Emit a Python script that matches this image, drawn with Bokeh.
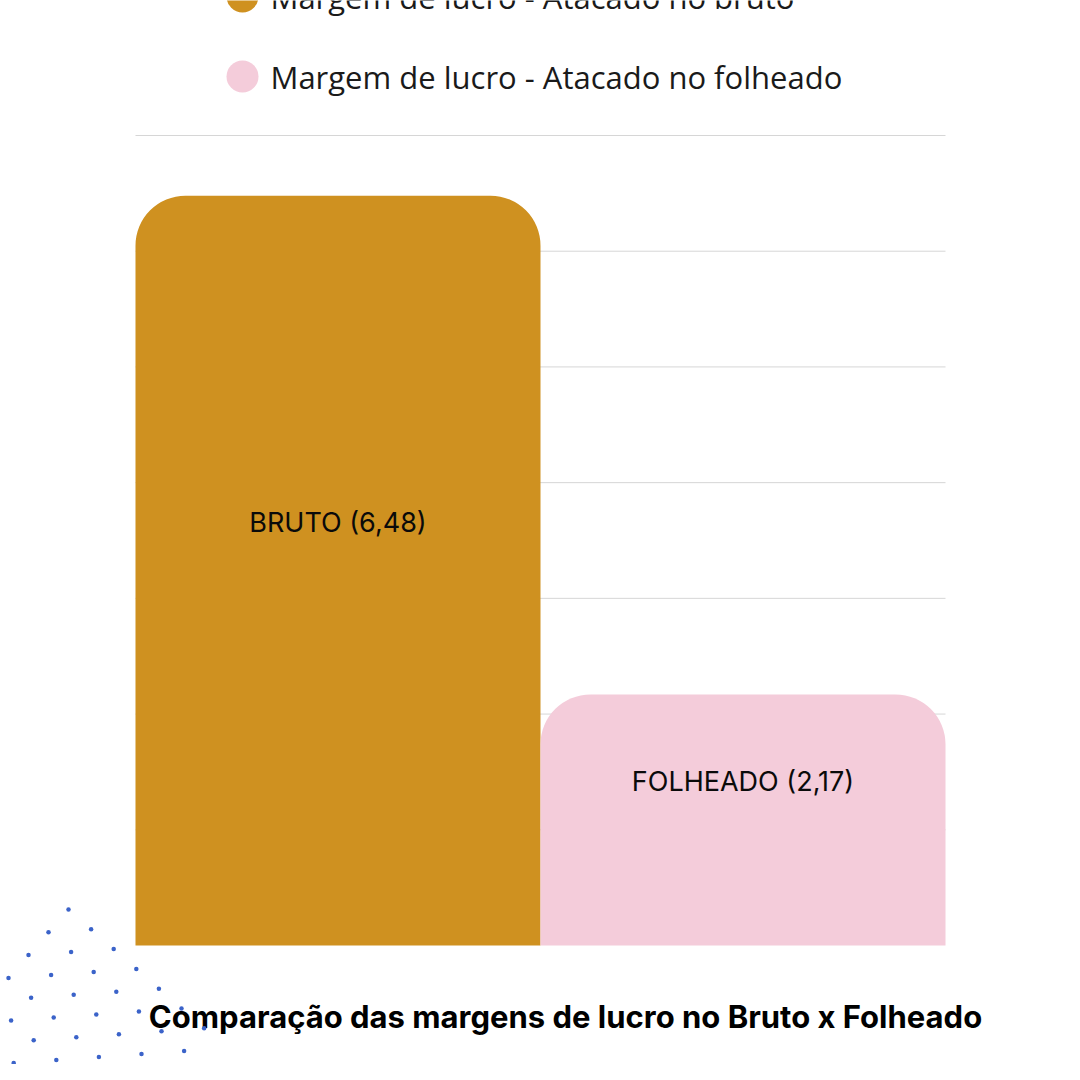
from bokeh.plotting import figure
from bokeh.models import Range1d
from bokeh.core.properties import value
from bokeh.embed import file_html
from bokeh.resources import INLINE

# ---- data ----
categories = ["BRUTO", "FOLHEADO"]
margins = [6.48, 2.17]
bar_colors = ["#CF9120", "#F4CCDA"]
series_names = ["Margem de lucro - Atacado no bruto", "Margem de lucro - Atacado no folheado"]
grid_values = [1, 2, 3, 4, 5, 6, 7]
title_text = "Comparação das margens de lucro no Bruto x Folheado"

# ---- figure: frame covers whole canvas ----
W = H = 1064
p = figure(width=W, height=H, output_backend="svg", toolbar_location=None,
           x_range=Range1d(-0.8333, 1.7938), y_range=Range1d(-1.0284, 8.1667),
           x_axis_location=None, y_axis_location=None, min_border=0)
p.grid.visible = False
p.outline_line_color = None
p.background_fill_color = "white"
p.border_fill_color = "white"
# pixel-space ranges (y downwards) for decorations
p.extra_x_ranges = {"px": Range1d(0, W)}
p.extra_y_ranges = {"px": Range1d(H, 0)}

# gridlines
p.segment(x0=-0.5, x1=len(categories) - 0.5, y0=grid_values, y1=grid_values,
          line_color="#d6d6d6", line_width=1)

# bars
xs = list(range(len(categories)))
p.vbar(x=xs, top=margins, bottom=0, width=1, fill_color=bar_colors,
       line_color=None, border_radius=(50, 50, 0, 0))

labels = [f"{c} ({v:.2f})".replace(".", ",") for c, v in zip(categories, margins)]
p.text(x=xs, y=[v * 0.52 for v in margins], text=labels, y_offset=-33,
       text_align="center", text_baseline="middle", text_color="#0a0a0a",
       text_font=value("Inter"), text_font_size=value("27px"))

# legend (top)
leg_y = [76 - 80 * (len(series_names) - 1 - i) for i in range(len(series_names))]
p.scatter(x=[242] * len(series_names), y=leg_y, size=32, marker="circle",
          fill_color=bar_colors, line_color=None,
          x_range_name="px", y_range_name="px")
p.text(x=[270] * len(series_names), y=leg_y, text=series_names,
       text_align="left", text_baseline="middle", text_color="#1a1a1a",
       text_font=value("Open Sans"), text_font_size=value("31px"),
       x_range_name="px", y_range_name="px")

# title (bottom)
p.text(x=[565], y=[1016], text=[title_text], text_align="center",
       text_baseline="middle", text_color="#000000", text_font=value("Inter"),
       text_font_style="bold", text_font_size=value("31px"),
       x_range_name="px", y_range_name="px")

# decorative dot lattice
dx, dy = [], []
for j in range(6):
    for i in range(7):
        dx.append(68 + 22.6 * i - 20 * j)
        dy.append(909 + 19.8 * i + 22.8 * j)
p.scatter(x=dx, y=dy, size=4.5, marker="circle", fill_color="#3b63c9",
          line_color=None, x_range_name="px", y_range_name="px")

open("out.html", "w").write(file_html(p, INLINE))
